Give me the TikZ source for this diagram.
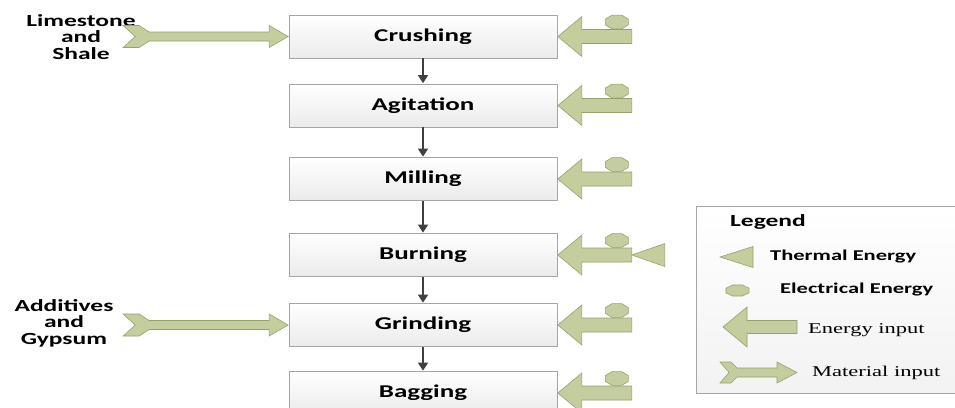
\documentclass[tikz,border=0pt]{standalone}
\usepackage{fontspec}
\setmainfont{Carlito}
\newfontfamily\legserif{Liberation Serif}
\usetikzlibrary{arrows.meta}
\newcommand\hwide[1]{\scalebox{1.5}[1]{#1}}
\definecolor{gfillc}{RGB}{196,205,158}
\definecolor{gdrawc}{RGB}{150,162,108}
\definecolor{boxdraw}{RGB}{165,165,165}
\definecolor{flowc}{RGB}{64,64,64}
\tikzset{
  gshape/.style={fill=gfillc,draw=gdrawc,line width=0.6pt,line join=miter},
  procbox/.style={draw=boxdraw,line width=0.7pt,top color=white,bottom color=black!8,
    minimum width=268pt,minimum height=43pt,inner sep=0pt,
    font=\fontsize{18}{20}\selectfont\bfseries},
  flow/.style={draw=flowc,line width=1.4pt,-{Triangle[width=10pt,length=8pt]},shorten >=0.5pt},
  srctext/.style={align=center,inner sep=0pt,font=\fontsize{17}{16.5}\selectfont\bfseries},
  legtext/.style={anchor=west,inner sep=0pt,font=\fontsize{15}{17}\selectfont\bfseries},
  legserif/.style={anchor=west,inner sep=0pt,font=\fontsize{15}{17}\selectfont\legserif},
  pics/energyin/.style={code={
    \draw[gshape] plot[samples at={22.5,67.5,...,337.5}] ({59+12.5*cos(\x)},{-14.5+7.5*sin(\x)}) -- cycle;
    \draw[gshape] (0,0) -- (24,-20) -- (24,-7) -- (74,-7) -- (74,7) -- (24,7) -- (24,20) -- cycle;
  }},
  pics/thermal/.style={code={
    \draw[gshape] (0,0) -- (33,-11.5) -- (33,11.5) -- cycle;
  }},
  pics/materialin/.style={code={
    \draw[gshape] (0,0) -- (-19,-11) -- (-19,-4.5) -- (-139,-4.5) -- (-149,-11) -- (-165,-11)
      -- (-153,0) -- (-165,11) -- (-149,11) -- (-139,4.5) -- (-19,4.5) -- (-19,11) -- cycle;
  }}
}
\begin{document}
\begin{tikzpicture}[x=1pt,y=-1pt]
\clip (0,0) rectangle (955,407);
\fill[white] (0,0) rectangle (955,407);

% process boxes
\node[procbox] (crush) at (423,36.5) {\hwide{Crushing}};
\node[procbox] (agit)  at (423,105.5) {\hwide{Agitation}};
\node[procbox] (mill)  at (423,179) {\hwide{Milling}};
\node[procbox] (burn)  at (423,255) {\hwide{Burning}};
\node[procbox] (grind) at (423,325) {\hwide{Grinding}};
\node[procbox] (bag)   at (423,393) {\hwide{Bagging}};

% flow arrows
\draw[flow] (crush) -- (agit);
\draw[flow] (agit) -- (mill);
\draw[flow] (mill) -- (burn);
\draw[flow] (burn) -- (grind);
\draw[flow] (grind) -- (bag);

% energy inputs
\pic at ([xshift=0.5pt]crush.east) {energyin};
\pic at ([xshift=0.5pt]agit.east) {energyin};
\pic at ([xshift=0.5pt]mill.east) {energyin};
\pic at ([xshift=0.5pt]burn.east) {energyin};
\pic at ([xshift=74.5pt]burn.east) {thermal};
\pic at ([xshift=0.5pt]grind.east) {energyin};
\pic at ([xshift=0.5pt]bag.east) {energyin};

% material inputs
\node[srctext] (lime) at (81,37) {\hwide{Limestone}\\\hwide{and}\\\hwide{Shale}};
\node[srctext] (addi) at (64,323) {\hwide{Additives}\\\hwide{and}\\\hwide{Gypsum}};
\pic at ([xshift=-0.5pt]crush.west) {materialin};
\pic at ([xshift=-0.5pt]grind.west) {materialin};

% legend
\node[draw=boxdraw,line width=0.7pt,top color=white,bottom color=black!5,
      minimum width=270pt,minimum height=187pt,anchor=north west,inner sep=0pt] (legbox) at (696,206) {};
\node[legtext,font=\fontsize{17}{19}\selectfont\bfseries] (legtitle) at (730,222) {\hwide{Legend}};
\draw[gshape] (720,257) -- (753,246.5) -- (753,267.5) -- cycle;
\node[legtext] (legth) at (770,257) {\hwide{Thermal Energy}};
\draw[gshape] plot[samples at={22.5,67.5,...,337.5}] ({737.5+12.5*cos(\x)},{290.5+6*sin(\x)}) -- cycle;
\node[legtext] (legel) at (780,290) {\hwide{Electrical Energy}};
\draw[gshape] (723,327) -- (747,307) -- (747,320.5) -- (797,320.5) -- (797,333.5) -- (747,333.5) -- (747,347) -- cycle;
\node[legserif] (legen) at (808,330) {\hwide{Energy input}};
\draw[gshape] (797,372.5) -- (777,362) -- (777,368) -- (737,368) -- (731,362) -- (720,362)
  -- (729,372.5) -- (720,383) -- (731,383) -- (737,377) -- (777,377) -- (777,383) -- cycle;
\node[legserif] (legmat) at (812,373) {\hwide{Material input}};
\end{tikzpicture}
\end{document}
